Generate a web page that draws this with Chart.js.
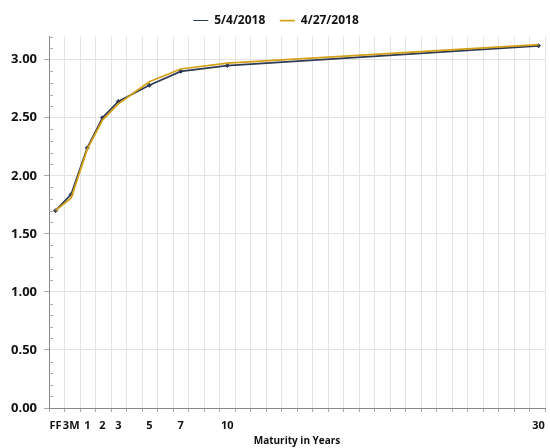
<!DOCTYPE html>
<html lang="en">
<head>
    <meta charset="UTF-8">
    <title>Treasury Yield Curve</title>
    <script src="https://cdn.jsdelivr.net/npm/chart.js"></script>
    <style>
        html, body { margin: 0; padding: 0; background: #fff; }
        #wrap { width: 550px; height: 448px; }
    </style>
</head>
<body>
    <div id="wrap"><canvas id="curveChart"></canvas></div>
    <script>
        // maturities and where they sit on the (linear) x axis
        const maturityLabels = ["FF", "3M", "1", "2", "3", "5", "7", "10", "30"];
        const maturityX = [0.42, 1.43, 2.47, 3.45, 4.47, 6.47, 8.5, 11.5, 31.58];

        // yields (%)
        const yieldsMay4 = [1.70, 1.84, 2.24, 2.50, 2.64, 2.78, 2.90, 2.95, 3.12];
        const yieldsApr27 = [1.70, 1.81, 2.23, 2.48, 2.62, 2.81, 2.92, 2.97, 3.13];

        const navy = "#2f3b55";
        const gold = "#d4a017";
        const fontFam = "'Open Sans', sans-serif";

        function toPoints(ys) {
            return ys.map((y, i) => ({ x: maturityX[i], y: y }));
        }

        function isMajor(v) {
            return Math.abs(v * 2 - Math.round(v * 2)) < 1e-6;
        }

        // small minor tick marks on the inside of the y axis
        const minorTicks = {
            id: "minorTicks",
            afterDraw(chart) {
                const ys = chart.scales.y;
                const ctx = chart.ctx;
                ctx.save();
                ctx.strokeStyle = "#aaa";
                ctx.lineWidth = 1;
                ys.ticks.forEach(t => {
                    if (isMajor(t.value)) return;
                    const py = Math.round(ys.getPixelForValue(t.value)) + 0.5;
                    ctx.beginPath();
                    ctx.moveTo(ys.right, py);
                    ctx.lineTo(ys.right + 4, py);
                    ctx.stroke();
                });
                ctx.restore();
            }
        };

        new Chart(document.getElementById("curveChart"), {
            type: "line",
            data: {
                datasets: [{
                    label: "5/4/2018",
                    data: toPoints(yieldsMay4),
                    borderColor: navy,
                    backgroundColor: navy,
                    borderWidth: 1.75,
                    pointStyle: "rectRot",
                    pointRadius: 2,
                    pointBorderWidth: 1,
                    order: 1
                }, {
                    label: "4/27/2018",
                    data: toPoints(yieldsApr27),
                    borderColor: gold,
                    backgroundColor: gold,
                    borderWidth: 1.75,
                    pointRadius: 0,
                    order: 0
                }]
            },
            options: {
                responsive: true,
                maintainAspectRatio: false,
                animation: false,
                layout: { padding: { left: 4, right: 2, top: 0, bottom: 1 } },
                plugins: {
                    tooltip: { enabled: false },
                    legend: {
                        position: "top",
                        labels: {
                            usePointStyle: true,
                            pointStyle: "line",
                            pointStyleWidth: 15,
                            padding: 14.5,
                            color: "#111",
                            font: { family: fontFam, size: 12, weight: "bold" },
                            sort: (a, b) => a.datasetIndex - b.datasetIndex
                        }
                    }
                },
                scales: {
                    x: {
                        type: "linear",
                        position: "bottom",
                        min: 0,
                        max: 32,
                        ticks: { display: false, stepSize: 1 },
                        grid: { color: "#e4e4e4", tickColor: "#aaa", tickLength: 4 },
                        border: { color: "#888" }
                    },
                    xLabels: {
                        type: "linear",
                        position: "bottom",
                        min: 0,
                        max: 32,
                        grid: { display: false },
                        border: { display: false },
                        afterBuildTicks: (axis) => {
                            axis.ticks = maturityX.map(v => ({ value: v }));
                        },
                        ticks: {
                            autoSkip: false,
                            maxRotation: 0,
                            minRotation: 0,
                            padding: 0,
                            color: "#111",
                            font: { family: fontFam, size: 11, weight: "bold", lineHeight: 1.0 },
                            callback: (value, index) => maturityLabels[index]
                        },
                        title: {
                            display: true,
                            text: "Maturity in Years",
                            color: "#111",
                            padding: { top: 4, bottom: 0 },
                            font: { family: fontFam, size: 10, weight: "bold" }
                        }
                    },
                    y: {
                        min: 0,
                        max: 3.2,
                        ticks: {
                            stepSize: 0.1,
                            autoSkip: false,
                            padding: 7,
                            color: "#111",
                            font: { family: fontFam, size: 13, weight: "bold" },
                            callback: (v) => isMajor(v) ? v.toFixed(2) : ""
                        },
                        grid: {
                            color: (ctx) => isMajor(ctx.tick.value) ? "#e4e4e4" : "transparent",
                            tickColor: (ctx) => isMajor(ctx.tick.value) ? "#aaa" : "transparent",
                            tickLength: 5
                        },
                        border: { color: "#888" }
                    }
                }
            },
            plugins: [minorTicks]
        });
    </script>
</body>
</html>
